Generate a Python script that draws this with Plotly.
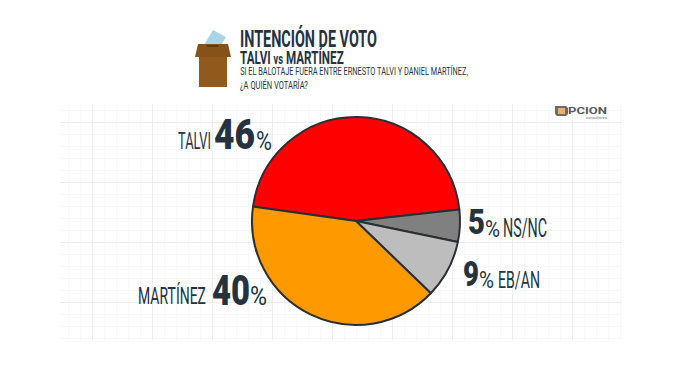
import plotly.graph_objects as go
import json

categories = ["TALVI", "NS/NC", "EB/AN", "MARTÍNEZ"]
values = [46, 5, 9, 40]
colors = ["#ff0000", "#808080", "#bdbdbd", "#ff9900"]

W, H = 680, 383
L, R, T, B = 60, 622, 104, 340
FONT = "Roboto"
INK = "#26333f"

def px(x):
    return (x - L) / (R - L)

def py(y):
    return (B - y) / (B - T)

def path(points):
    return "M" + "L".join(f"{px(x):.4f},{py(y):.4f}" for x, y in points) + "Z"

fig = go.Figure()
fig.add_trace(go.Pie(
    labels=categories, values=values, sort=False, direction="clockwise",
    rotation=278, textinfo="none", hoverinfo="label+percent",
    marker=dict(colors=colors, line=dict(color="#2a2f33", width=2)),
    domain=dict(x=[px(252), px(460)], y=[py(325), py(117)]),
    showlegend=False,
))

shapes = [
    dict(type="path", path=path([(213, 30), (226, 37), (217, 52), (204, 45)]), fillcolor="#a9d3e6"),
    dict(type="path", path=path([(199, 56), (227, 56), (227, 87), (199, 87)]), fillcolor="#8f5a1c"),
    dict(type="path", path=path([(198, 44), (228, 44), (231, 57), (195, 57)]), fillcolor="#85531a"),
    dict(type="path", path=path([(206, 45), (219, 45), (218, 47), (207, 47)]), fillcolor="#5a3a12"),
    dict(type="path", path=path([(555, 106), (566, 106), (568, 108), (568, 114), (566, 116), (557, 116), (555, 114)]),
         fillcolor="#6e6a64"),
    dict(type="rect", x0=px(558), x1=px(565), y0=py(114), y1=py(108), fillcolor="#e8b06e"),
]
for s in shapes:
    s.update(xref="paper", yref="paper", line=dict(width=0), layer="above")

fits = []

def note(x0, x1, y, text, size, color=INK, bold=False, weight=None):
    fits.append([x0, x1])
    font = dict(family=FONT, size=size, color=color)
    if weight:
        font["weight"] = weight
    return dict(xref="paper", yref="paper", x=px(x0), y=py(y), xanchor="left", yanchor="middle",
                text=f"<b>{text}</b>" if bold else text, showarrow=False, font=font)

annotations = [
    note(240, 377, 39, "INTENCIÓN DE VOTO", 23, bold=True),
    note(240, 344, 57, "TALVI <span style='font-size:14px'>vs</span> MARTÍNEZ", 17.5, bold=True),
    note(240, 468, 71.5, "SI EL BALOTAJE FUERA ENTRE ERNESTO TALVI Y DANIEL MARTÍNEZ,", 11),
    note(240, 308, 85, "¿A QUIÉN VOTARÍA?", 10.5),
    note(178, 211, 141.5, "TALVI", 23),
    note(214, 255, 134, "46", 42, weight=900),
    note(256, 272, 141.5, "%", 25),
    note(138, 206, 296, "MARTÍNEZ", 23),
    note(212, 250, 290.5, "40", 42, weight=900),
    note(250, 267, 296, "%", 25),
    note(468, 485, 222, "5", 36, weight=900),
    note(485, 500, 228.5, "%", 24),
    note(503, 547, 228, "NS/NC", 25),
    note(463, 479, 274, "9", 36, weight=900),
    note(479, 494, 279.5, "%", 24),
    note(498, 540, 279.5, "EB/AN", 24),
    note(568, 607, 111, "<b>PCION</b>", 9, color="#55585c"),
    note(586, 607, 118, "consultores", 4, color="#777777"),
]

fig.update_layout(
    width=W, height=H, autosize=False,
    margin=dict(l=L, r=W - R, t=T, b=H - B),
    paper_bgcolor="white", plot_bgcolor="white",
    shapes=shapes, annotations=annotations,
    xaxis=dict(range=[L, R], tick0=92, dtick=60, showgrid=True, gridcolor="#eceef0", gridwidth=1,
               minor=dict(tick0=92, dtick=12, showgrid=True, gridcolor="#f7f8f9", gridwidth=1),
               zeroline=False, showticklabels=False, ticks="", showline=False, fixedrange=True),
    yaxis=dict(range=[B, T], tick0=122, dtick=60, showgrid=True, gridcolor="#eceef0", gridwidth=1,
               minor=dict(tick0=122, dtick=12, showgrid=True, gridcolor="#f7f8f9", gridwidth=1),
               zeroline=False, showticklabels=False, ticks="", showline=False, fixedrange=True),
)
fig.add_trace(go.Scatter(x=[], y=[], showlegend=False, hoverinfo="skip"))

# Page margin off; fit each label to the reference's condensed letter widths.
post = """
document.body.style.margin = '0';
var fits = %s;
document.querySelectorAll('.annotation').forEach(function (a, i) {
  var t = a.querySelector('text');
  var b = t.getBBox();
  var m = t.getScreenCTM();
  var s = (fits[i][1] - fits[i][0]) / b.width;
  var tx = fits[i][0] - m.e - s * b.x;
  t.setAttribute('transform', 'translate(' + tx + ',0) scale(' + s + ',1)');
});
""" % json.dumps(fits)
fig.write_html("out.html", config=dict(displayModeBar=False), post_script=post)
